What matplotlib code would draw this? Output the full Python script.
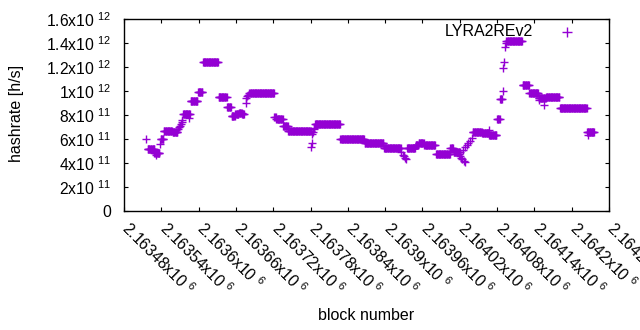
import numpy as np
import matplotlib
matplotlib.use("Agg")
import matplotlib.pyplot as plt
import matplotlib.transforms as mtrans

plt.rcParams['font.family'] = ['Liberation Sans', 'DejaVu Sans']
plt.rcParams['mathtext.fontset'] = 'custom'
plt.rcParams['mathtext.rm'] = 'Liberation Sans'
plt.rcParams['mathtext.it'] = 'Liberation Sans:italic'
plt.rcParams['mathtext.bf'] = 'Liberation Sans:bold'

# Run-length data: blocks seg_start..seg_end share the hashrate seg_val
seg_start = [2163518, 2163529, 2163539, 2163544, 2163558, 2163575, 2163587, 2163599,
             2163607, 2163632, 2163646, 2163653, 2163659, 2163665, 2163670, 2163683,
             2163722, 2163725, 2163736, 2163744, 2163787, 2163828, 2163867, 2163898,
             2163935, 2163949, 2163954, 2163963, 2163982, 2164005, 2164010, 2164041,
             2164056, 2164067, 2164080, 2164085, 2164095, 2164121, 2164132, 2164147,
             2164159, 2164181, 2164225]
seg_end = [2163529, 2163537, 2163543, 2163557, 2163566, 2163586, 2163598, 2163606,
           2163631, 2163645, 2163652, 2163658, 2163664, 2163669, 2163673, 2163721,
           2163724, 2163735, 2163743, 2163780, 2163827, 2163866, 2163897, 2163925,
           2163948, 2163953, 2163962, 2163980, 2164004, 2164009, 2164020, 2164055,
           2164066, 2164079, 2164084, 2164088, 2164120, 2164131, 2164146, 2164158,
           2164180, 2164224, 2164236]
seg_val = [5.14e11, 4.86e11, 5.97e11, 6.64e11, 6.56e11, 8.06e11, 9.14e11, 9.89e11,
           1.239e12, 9.46e11, 8.64e11, 7.95e11, 8.10e11, 8.20e11, 8.05e11, 9.87e11,
           7.80e11, 7.70e11, 7.06e11, 6.66e11, 7.22e11, 5.97e11, 5.64e11, 5.22e11,
           5.25e11, 5.50e11, 5.70e11, 5.50e11, 4.72e11, 5.29e11, 4.95e11, 6.60e11,
           6.50e11, 6.30e11, 7.64e11, 9.30e11, 1.42e12, 1.05e12, 9.86e11, 9.40e11,
           9.53e11, 8.56e11, 6.60e11]

# Single points
pt_block = [2163515, 2163531, 2163538, 2163567, 2163568, 2163570, 2163571, 2163573,
            2163574, 2163585, 2163676, 2163677, 2163678, 2163679, 2163681, 2163781,
            2163782, 2163783, 2163784, 2163785, 2163786, 2163926, 2163928, 2163930,
            2163932, 2163934, 2164018, 2164020, 2164022, 2164024, 2164026, 2164028,
            2164025, 2164028, 2164031, 2164034, 2164037, 2164040, 2164067, 2164089,
            2164090, 2164091, 2164093, 2164094, 2164147, 2164155, 2164226]
pt_val = [6.00e11, 4.67e11, 5.58e11, 6.85e11, 7.00e11, 7.10e11, 7.25e11, 7.45e11,
          7.60e11, 7.72e11, 8.97e11, 9.45e11, 9.60e11, 9.70e11, 9.80e11, 5.36e11,
          5.64e11, 6.40e11, 6.60e11, 6.80e11, 6.95e11, 4.90e11, 4.70e11, 4.55e11,
          4.45e11, 4.30e11, 4.75e11, 4.60e11, 4.45e11, 4.30e11, 4.20e11, 4.05e11,
          5.10e11, 5.30e11, 5.50e11, 5.65e11, 5.85e11, 6.05e11, 6.75e11, 1.00e12,
          1.19e12, 1.24e12, 1.37e12, 1.40e12, 9.25e11, 8.83e11, 6.33e11]

x_ticks = [2163480 + 60 * i for i in range(14)]
x_ticklabels = ['2.16348', '2.16354', '2.1636', '2.16366', '2.16372', '2.16378',
                '2.16384', '2.1639', '2.16396', '2.16402', '2.16408', '2.16414',
                '2.1642', '2.16426']
y_ticks = [0, 2e11, 4e11, 6e11, 8e11, 1e12, 1.2e12, 1.4e12, 1.6e12]
y_mant = ['0', '2', '4', '6', '8', '1', '1.2', '1.4', '1.6']
y_exp = [None, 11, 11, 11, 11, 12, 12, 12, 12]

color = '#9400D3'

blocks = np.concatenate([np.arange(s, e + 1) for s, e in zip(seg_start, seg_end)] + [np.array(pt_block)])
vals = np.concatenate([np.full(e - s + 1, v) for s, e, v in zip(seg_start, seg_end, seg_val)] + [np.array(pt_val)])

fig = plt.figure(figsize=(6.4, 3.3), dpi=100)
ax = fig.add_axes([124 / 640, 1 - 211 / 330, 485 / 640, 192 / 330])
ax.plot(blocks, vals, linestyle='none', marker='+', markersize=5.2, markeredgewidth=1.0,
        color=color, clip_on=False)
ax.set_xlim(2163480, 2164260)
ax.set_ylim(0, 1.6e12)

ax.set_xticks(x_ticks)
ax.set_xticklabels([])
offset = mtrans.ScaledTranslation(8 / 100, -7 / 100, fig.dpi_scale_trans)
for xt, l in zip(x_ticks, x_ticklabels):
    ax.text(xt, 0, l + r'x10 $^{6}$', transform=ax.get_xaxis_transform() + offset,
            rotation=-45, ha='left', va='top', rotation_mode='anchor', fontsize=11.3,
            clip_on=False)
ax.set_yticks(y_ticks)
ylabels = []
for m, e in zip(y_mant, y_exp):
    ylabels.append(m if e is None else m + 'x10 $^{%d}$' % e)
ax.set_yticklabels(ylabels, fontsize=11.3)
ax.tick_params(direction='in', length=3, width=0.8, top=True, right=True, color='black')
ax.tick_params(axis='y', pad=9)
for sp in ax.spines.values():
    sp.set_linewidth(1.0)

fig.text(366 / 640, 1 - 315 / 330, 'block number', ha='center', va='center', fontsize=11.5)
fig.text(17 / 640, 1 - 113 / 330, 'hashrate [h/s]', ha='center', va='center',
         rotation=90, fontsize=11.5)

# legend
ax.text(0.8433, 0.934, 'LYRA2REv2', transform=ax.transAxes, ha='right', va='center', fontsize=11.5)
ax.plot([0.9128], [0.934], transform=ax.transAxes, marker='+', markersize=7,
        markeredgewidth=1.0, color=color, linestyle='none', clip_on=False)

fig.savefig('out.png', dpi=100)
